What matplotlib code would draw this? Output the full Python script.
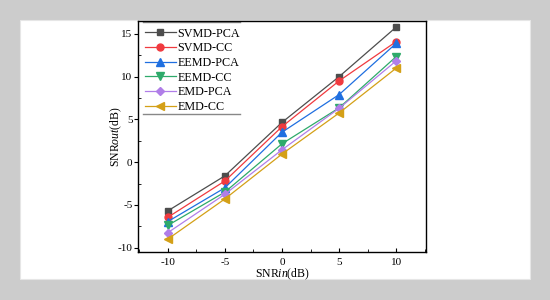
import matplotlib.pyplot as plt
from matplotlib.patches import Rectangle
from matplotlib.ticker import MultipleLocator

plt.rcParams['font.family'] = 'Liberation Serif'
plt.rcParams['mathtext.fontset'] = 'custom'
plt.rcParams['mathtext.rm'] = 'Liberation Serif'
plt.rcParams['mathtext.it'] = 'Liberation Serif:italic'
plt.rcParams['axes.unicode_minus'] = False

snr_in = [-10, -5, 0, 5, 10]
labels = ['SVMD-PCA', 'SVMD-CC', 'EEMD-PCA', 'EEMD-CC', 'EMD-PCA', 'EMD-CC']
svmd_pca = [-5.7, -1.6, 4.65, 10.0, 15.8]
svmd_cc = [-6.45, -2.2, 4.15, 9.5, 14.1]
eemd_pca = [-6.95, -3.0, 3.5, 7.9, 13.9]
eemd_cc = [-7.4, -3.5, 2.15, 6.35, 12.35]
emd_pca = [-8.25, -3.75, 1.45, 6.3, 11.85]
emd_cc = [-9.0, -4.3, 0.95, 5.75, 11.0]

series = [svmd_pca, svmd_cc, eemd_pca, eemd_cc, emd_pca, emd_cc]
colors = ['#4d4d4d', '#f03a3f', '#1f6fe0', '#2eaa6a', '#b07ee8', '#d4a017']
markers = ['s', 'o', '^', 'v', 'D', '<']
msizes = [5, 5, 5.5, 5.5, 4.5, 5.5]

fig = plt.figure(figsize=(5.5, 3), dpi=100, facecolor='#cccccc')
fig.patches.append(Rectangle((20 / 550, 21 / 300), 510 / 550, 259 / 300,
                             transform=fig.transFigure, facecolor='white',
                             edgecolor='#e6e6e6', lw=0.8, zorder=-1))

ax = fig.add_axes([138 / 550, 48 / 300, 288 / 550, 231 / 300])
ax.set_zorder(1)
for vals, lab, c, m, ms in zip(series, labels, colors, markers, msizes):
    ax.plot(snr_in, vals, color=c, marker=m, markersize=ms, lw=0.9, label=lab)

ax.set_xlim(-12.6, 12.6)
ax.set_ylim(-10.5, 16.5)
ax.set_xticks(snr_in)
ax.set_yticks([-10, -5, 0, 5, 10, 15])
ax.xaxis.set_minor_locator(MultipleLocator(2.5))
ax.yaxis.set_minor_locator(MultipleLocator(2.5))
ax.tick_params(axis='x', which='major', direction='in', length=3, labelsize=8, pad=4)
ax.tick_params(axis='x', which='minor', direction='in', length=2)
ax.tick_params(axis='y', which='major', direction='out', length=3, labelsize=8, pad=1)
ax.tick_params(axis='y', which='minor', direction='in', length=2)
for s in ax.spines.values():
    s.set_linewidth(1.0)

ax.set_xlabel(r'SNR$\it{in}$(dB)', fontsize=8.5)
ax.set_ylabel(r'SNR$\it{out}$(dB)', fontsize=8.5)
ax.xaxis.set_label_coords(0.5, -0.063)
ax.yaxis.set_label_coords(-0.05, 0.5)

leg = ax.legend(loc='upper left', bbox_to_anchor=(0.0, 1.0), frameon=False,
                fontsize=8.7, handlelength=2.6, handletextpad=0.1,
                labelspacing=0.22, borderaxespad=0.25, borderpad=0.3)
ax.plot([0.017, 0.354], [0.996, 0.996], transform=ax.transAxes, color='#888888', lw=1)
ax.plot([0.017, 0.354], [0.597, 0.597], transform=ax.transAxes, color='#888888', lw=1)

fig.savefig('out.png', dpi=100, facecolor=fig.get_facecolor())
